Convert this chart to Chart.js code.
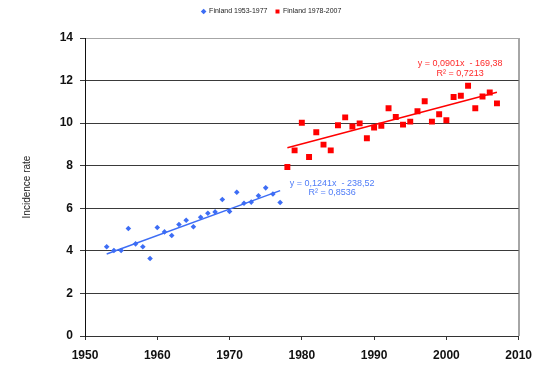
<!DOCTYPE html>
<html>
<head>
<meta charset="utf-8">
<script src="https://cdn.jsdelivr.net/npm/chart.js@4.4.1/dist/chart.umd.min.js"></script>
<style>
  html, body { margin: 0; padding: 0; background: #fff; }
  #wrap { width: 540px; height: 368px; position: relative; }
</style>
</head>
<body>
<div id="wrap"><canvas id="c" width="540" height="368"></canvas></div>
<script>
// ---- data ----
const yearsEarly = [1953,1954,1955,1956,1957,1958,1959,1960,1961,1962,1963,1964,1965,1966,1967,1968,1969,1970,1971,1972,1973,1974,1975,1976,1977];
const ratesEarly = [4.19,4.02,4.02,5.05,4.33,4.19,3.64,5.10,4.89,4.72,5.24,5.44,5.13,5.58,5.77,5.83,6.41,5.85,6.75,6.24,6.29,6.59,6.96,6.67,6.27];
const yearsLate = [1978,1979,1980,1981,1982,1983,1984,1985,1986,1987,1988,1989,1990,1991,1992,1993,1994,1995,1996,1997,1998,1999,2000,2001,2002,2003,2004,2005,2006,2007];
const ratesLate = [7.94,8.72,10.02,8.41,9.57,8.99,8.72,9.90,10.27,9.84,9.99,9.29,9.79,9.88,10.70,10.29,9.93,10.07,10.56,11.03,10.07,10.42,10.14,11.23,11.29,11.76,10.70,11.25,11.44,10.93];
// trendline endpoints (as drawn)
const trendEarlyX = [1953, 1977];
const trendEarlyY = [3.85, 6.83];
const trendLateX = [1978, 2007];
const trendLateY = [8.84, 11.45];
const seriesLabels = ['Finland 1953-1977', 'Finland 1978-2007'];
const eqEarly = ['y = 0,1241x  - 238,52', 'R² = 0,8536'];
const eqLate = ['y = 0,0901x  - 169,38', 'R² = 0,7213'];
const xTicks = [1950,1960,1970,1980,1990,2000,2010];
const yTicks = [0,2,4,6,8,10,12,14];
const yTitle = 'Incidence rate';

const toPts = (xs, ys) => xs.map((x, i) => ({x: x, y: ys[i]}));

const BLUE = '#3d6df5';
const RED = '#ff0000';

const legendTweak = {
  id: 'legendTweak',
  beforeInit(chart) {
    const lg = chart.legend;
    if (!lg) return;
    const origFit = lg.fit;
    lg.fit = function () {
      origFit.call(this);
      this.height += 13;
    };
  },
  afterLayout(chart) {
    const lg = chart.legend;
    if (!lg) return;
    lg.left += 11;
    lg.right += 11;
  }
};

const eqPlugin = {
  id: 'eqPlugin',
  afterDatasetsDraw(chart) {
    const {ctx, scales: {x, y}, chartArea} = chart;
    ctx.save();
    ctx.font = '9px "Liberation Sans", Arial, sans-serif';
    ctx.textAlign = 'center';
    ctx.textBaseline = 'middle';
    const items = [
      {lines: eqEarly, ax: 1984.2, ay: 7.17, color: '#4f7cf7'},
      {lines: eqLate, ax: 2001.9, ay: 12.78, color: '#ff2a2a'}
    ];
    items.forEach(it => {
      ctx.fillStyle = it.color;
      const px = x.getPixelForValue(it.ax);
      const py = y.getPixelForValue(it.ay);
      it.lines.forEach((t, i) => ctx.fillText(t, px, py + i * 9.5));
    });
    // right border of plot area
    ctx.strokeStyle = '#a6a6a6';
    ctx.lineWidth = 1;
    ctx.beginPath();
    ctx.moveTo(Math.round(chartArea.right) + 0.5, chartArea.top);
    ctx.lineTo(Math.round(chartArea.right) + 0.5, chartArea.bottom);
    ctx.stroke();
    ctx.restore();
  }
};

new Chart(document.getElementById('c'), {
  type: 'scatter',
  data: {
    datasets: [
      {
        label: seriesLabels[0],
        data: toPts(yearsEarly, ratesEarly),
        pointStyle: 'rectRot',
        pointRadius: 2.8,
        backgroundColor: BLUE,
        borderColor: BLUE,
        borderWidth: 0
      },
      {
        label: seriesLabels[1],
        data: toPts(yearsLate, ratesLate),
        pointStyle: 'rect',
        pointRadius: 4.2,
        backgroundColor: RED,
        borderColor: RED,
        borderWidth: 0
      },
      {
        label: 'trend1',
        data: toPts(trendEarlyX, trendEarlyY),
        showLine: true,
        pointRadius: 0,
        borderColor: BLUE,
        borderWidth: 1.5
      },
      {
        label: 'trend2',
        data: toPts(trendLateX, trendLateY),
        showLine: true,
        pointRadius: 0,
        borderColor: RED,
        borderWidth: 1.5
      }
    ]
  },
  options: {
    responsive: false,
    animation: false,
    layout: { padding: { left: 0, right: 19, top: 0, bottom: 0 } },
    plugins: {
      tooltip: { enabled: false },
      legend: {
        position: 'top',
        labels: {
          filter: item => item.datasetIndex < 2,
          usePointStyle: true,
          boxWidth: 4,
          boxHeight: 4,
          padding: 8,
          color: '#222',
          font: { size: 7, family: '"Liberation Sans", Arial, sans-serif' }
        }
      }
    },
    scales: {
      x: {
        type: 'linear',
        min: 1950, max: 2010,
        afterBuildTicks: s => { s.ticks = xTicks.map(v => ({value: v})); },
        afterFit: s => { s.height = 32; },
        border: { display: true, color: '#333', width: 1 },
        grid: {
          color: c => (c.tick && c.tick.value === 2010) ? '#a6a6a6' : 'rgba(0,0,0,0)',
          tickColor: '#333',
          tickLength: 4,
          drawOnChartArea: true
        },
        ticks: {
          color: '#111',
          padding: 8,
          maxRotation: 0,
          callback: v => String(v),
          font: { size: 12, weight: 'bold', family: '"Liberation Sans", Arial, sans-serif' }
        }
      },
      y: {
        min: 0, max: 14,
        afterBuildTicks: s => { s.ticks = yTicks.map(v => ({value: v})); },
        afterFit: s => { s.width = 85; },
        border: { display: true, color: '#111', width: 1 },
        grid: {
          color: c => (c.tick && (c.tick.value === 14)) ? '#a6a6a6' : '#3a3a3a',
          tickColor: '#3a3a3a',
          tickLength: 5
        },
        ticks: {
          color: '#111',
          padding: 7,
          font: { size: 12, weight: 'bold', family: '"Liberation Sans", Arial, sans-serif' }
        },
        title: {
          display: true,
          text: yTitle,
          color: '#222',
          padding: { top: 21, bottom: 0 },
          font: { size: 10, family: '"Liberation Sans", Arial, sans-serif' }
        }
      }
    }
  },
  plugins: [legendTweak, eqPlugin]
});
</script>
</body>
</html>
